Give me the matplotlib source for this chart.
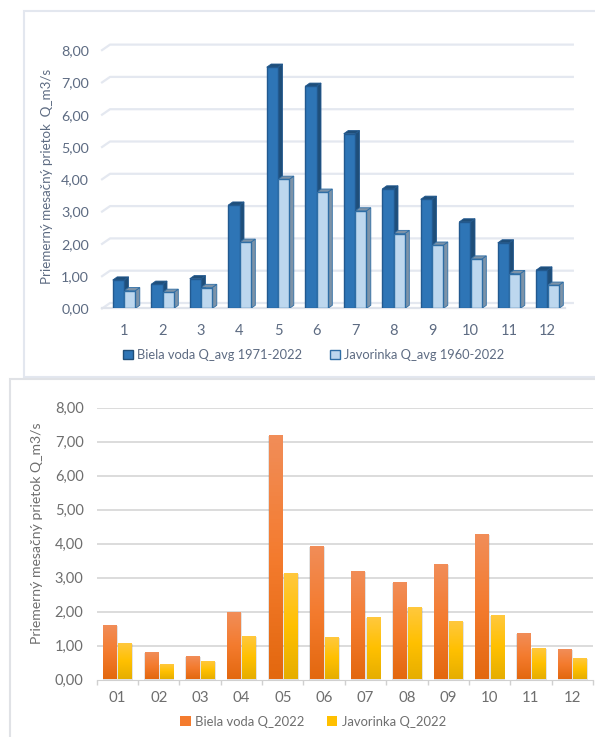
import numpy as np
import matplotlib
matplotlib.use('Agg')
import matplotlib.pyplot as plt
from matplotlib.colors import LinearSegmentedColormap
from matplotlib.patches import Patch, Polygon, Rectangle

plt.rcParams['font.family'] = 'Lato'

W, H = 595, 737

# top chart, long term averages
months_top = ['1', '2', '3', '4', '5', '6', '7', '8', '9', '10', '11', '12']
biela_avg = [0.88, 0.75, 0.92, 3.20, 7.47, 6.88, 5.41, 3.70, 3.38, 2.68, 2.03, 1.19]
javorinka_avg = [0.55, 0.50, 0.65, 2.05, 4.00, 3.60, 3.02, 2.32, 1.96, 1.53, 1.08, 0.72]

# bottom chart, year 2022
months_bottom = ['01', '02', '03', '04', '05', '06', '07', '08', '09', '10', '11', '12']
biela_2022 = [1.56, 0.78, 0.66, 1.96, 7.18, 3.91, 3.17, 2.84, 3.36, 4.26, 1.34, 0.87]
javorinka_2022 = [1.04, 0.42, 0.52, 1.26, 3.10, 1.23, 1.80, 2.10, 1.68, 1.86, 0.89, 0.59]

y_ticks = [0, 1, 2, 3, 4, 5, 6, 7, 8]
y_labels = ['0,00', '1,00', '2,00', '3,00', '4,00', '5,00', '6,00', '7,00', '8,00']


def make_axes(fig, left, right, top, bottom):
    # pixel box -> figure fraction
    return fig.add_axes([left / W, 1 - bottom / H, (right - left) / W, (bottom - top) / H])


def bar_3d(ax, x, v, w, dx, dy, face, edge, side, top):
    ax.add_patch(Polygon([(x + w / 2, 0), (x + w / 2 + dx, dy), (x + w / 2 + dx, v + dy), (x + w / 2, v)],
                         fc=side, ec=edge, lw=0.6, zorder=3))
    ax.add_patch(Polygon([(x - w / 2, v), (x - w / 2 + dx, v + dy), (x + w / 2 + dx, v + dy), (x + w / 2, v)],
                         fc=top, ec=edge, lw=0.6, zorder=3))
    ax.bar(x, v, w, color=face, edgecolor=edge, lw=1.0, zorder=4)


def grad_bar(ax, x, v, w, cmap):
    # soft shadow first, then the gradient face
    ax.bar(x + 0.012, v, w + 0.05, color='#808080', alpha=0.22, lw=0, zorder=2)
    g = np.linspace(0, 1, 64).reshape(-1, 1)
    ax.imshow(g, extent=(x - w / 2, x + w / 2, 0, v), aspect='auto', cmap=cmap,
              vmin=0, vmax=1, origin='upper', zorder=3)


fig = plt.figure(figsize=(W / 100, H / 100), dpi=100, facecolor='white')

# frames of the two pasted charts, kept behind the axes
frame = '#e3e7ef'
fig.add_artist(Rectangle((24 / W, 1 - 377 / H), 600 / W, 366 / H, transform=fig.transFigure,
                         fc='white', ec=frame, lw=1.5, zorder=-2))
fig.add_artist(Rectangle((10 / W, -0.02), 600 / W, 1 - 379 / H + 0.02, transform=fig.transFigure,
                         fc='white', ec='#e0e2e6', lw=1.5, zorder=-1))

# ---- top chart ----
ax1 = make_axes(fig, 104.75, 566.75, 50.1, 308.5)
txt1 = '#5d6b82'
unit_x = 38.5
unit_y = 32.3
gx, gy = 8 / unit_x, 5.5 / unit_y
x0 = 0.43
x1 = 12.45
for t in y_ticks:
    ax1.plot([x0, x0 + gx, x1 + gx], [t, t + gy, t + gy], color='#e4e8f0', lw=1.6, clip_on=False, zorder=1)
ax1.plot([x0, x1], [0, 0], color='#dfe3eb', lw=1.6, clip_on=False, zorder=1)

xs = np.arange(1, 13)
bw = 11.3 / unit_x
ddx, ddy = 4.5 / unit_x, 3.2 / unit_y
for i in range(12):
    bar_3d(ax1, xs[i] - bw / 2, biela_avg[i], bw, ddx, ddy, '#2e75b6', '#22598f', '#1f4e79', '#1f4e79')
    bar_3d(ax1, xs[i] + bw / 2, javorinka_avg[i], bw, ddx, ddy, '#bdd7ee', '#2f6ea5', '#7d93a8', '#7d93a8')

ax1.set_xlim(0.5, 12.5)
ax1.set_ylim(0, 8)
ax1.set_xticks(xs)
ax1.set_xticklabels(months_top, fontsize=10.5, color=txt1)
ax1.set_yticks(y_ticks)
ax1.set_yticklabels(y_labels, fontsize=10.3, color=txt1)
ax1.tick_params(length=0)
ax1.tick_params(axis='x', pad=11)
ax1.tick_params(axis='y', pad=11.5)
for s in ax1.spines.values():
    s.set_visible(False)
ax1.patch.set_alpha(0)
ax1.set_ylabel('Priemerný mesačný prietok  Q_m3/s', fontsize=9.6, color=txt1)
ax1.yaxis.set_label_coords((53 - 104.75) / 462, (308.5 - 176) / 258.4)

h1 = [Patch(fc='#2e75b6', ec='#1f4e79', lw=1.0), Patch(fc='#bdd7ee', ec='#2f6ea5', lw=1.0)]
fig.legend(h1, ['Biela voda Q_avg 1971-2022', 'Javorinka Q_avg 1960-2022'], ncol=2,
           loc='center', bbox_to_anchor=(313.5 / W, 1 - 355 / H), frameon=False, fontsize=9.3,
           labelcolor=txt1, handlelength=0.8, handleheight=0.8, handletextpad=0.3, columnspacing=2.1)

# ---- bottom chart ----
ax2 = make_axes(fig, 96.7, 593, 407.7, 679.5)
txt2 = '#6e6e6e'
orange = LinearSegmentedColormap.from_list('o', ['#f18d58', '#f47b2e', '#e3680f'])
yellow = LinearSegmentedColormap.from_list('y', ['#ffc83d', '#ffc000', '#e6ae00'])
bw2 = 13.2 / 41.36
gap = 2 / 41.36
for t in y_ticks[1:]:
    ax2.axhline(t, color='#d9d9d9', lw=1.3, zorder=1)
for i in range(12):
    grad_bar(ax2, xs[i] - (bw2 + gap) / 2, biela_2022[i], bw2, orange)
    grad_bar(ax2, xs[i] + (bw2 + gap) / 2, javorinka_2022[i], bw2, yellow)

ax2.set_xlim(0.5, 12.5)
ax2.set_ylim(0, 8)
ax2.set_xticks(xs)
ax2.set_xticklabels(months_bottom, fontsize=10.8, color=txt2)
ax2.set_xticks(np.arange(0.5, 13), minor=True)
ax2.tick_params(axis='x', which='major', length=0, pad=8.5)
ax2.tick_params(axis='x', which='minor', length=3.5, color='#d0d0d0', width=1)
ax2.set_yticks(y_ticks)
ax2.set_yticklabels(y_labels, fontsize=10.5, color=txt2)
ax2.tick_params(axis='y', length=0, pad=9.5)
for k in ['top', 'right', 'left']:
    ax2.spines[k].set_visible(False)
ax2.spines['bottom'].set_color('#d0d0d0')
ax2.patch.set_alpha(0)
ax2.set_ylabel('Priemerný mesačný prietok Q_m3/s', fontsize=10.1, color=txt2)
ax2.yaxis.set_label_coords((43 - 96.7) / 496.3, (679.5 - 533) / 271.8)

h2 = [Patch(fc='#f47b2e', lw=0), Patch(fc='#ffc000', lw=0)]
fig.legend(h2, ['Biela voda Q_2022', 'Javorinka Q_2022'], ncol=2,
           loc='center', bbox_to_anchor=(313 / W, 1 - 722 / H), frameon=False, fontsize=9.4,
           labelcolor=txt2, handlelength=0.8, handleheight=0.8, handletextpad=0.35, columnspacing=1.7)

fig.savefig('out.png', dpi=100)
